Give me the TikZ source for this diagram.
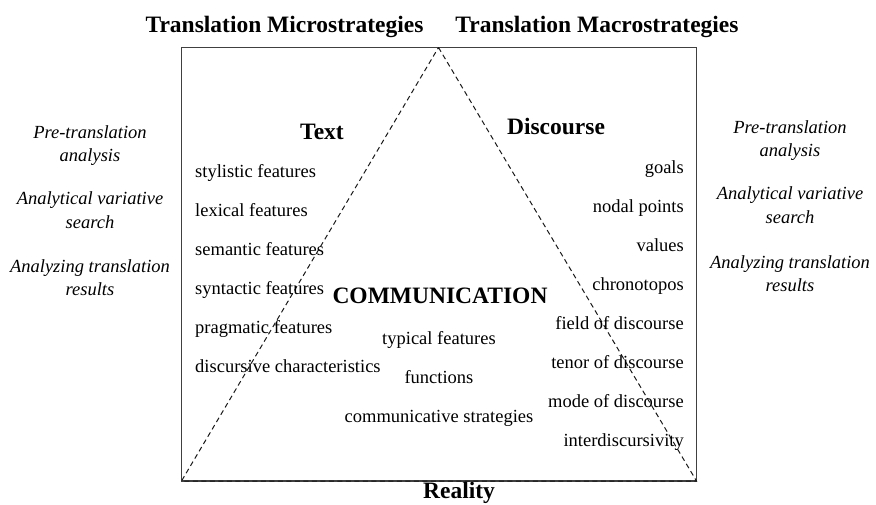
\documentclass[tikz,border=0pt]{standalone}
\usepackage{fontspec}
\setmainfont{Liberation Serif}
\begin{document}
\begin{tikzpicture}[
    x=1pt, y=-1pt,
    item/.style={inner sep=0, font=\fontsize{18.5}{22}\selectfont},
    heading/.style={inner sep=0, font=\fontsize{23.5}{28}\selectfont\bfseries},
    stage/.style={inner sep=0, align=center, font=\fontsize{18.5}{23.5}\selectfont\itshape},
    frame/.style={draw=black!75, line width=1.3pt},
    tri/.style={draw=black!90, line width=1pt, dash pattern=on 5pt off 3.5pt}
  ]
  \useasboundingbox (0,0) rectangle (876,504);
  % frame and triangle
  \coordinate (apex) at (438.5,47.5);
  \coordinate (bl) at (181.5,481);
  \coordinate (br) at (696.5,481);
  \draw[frame] (181.5,47.5) rectangle (696.5,481);
  \draw[tri] (apex) -- (br) -- (bl) -- cycle;

  % headings
  \node[heading, anchor=base] (micro) at (284.5,32) {Translation Microstrategies};
  \node[heading, anchor=base] (macro) at (597,32) {Translation Macrostrategies};
  \node[heading, anchor=base] (text) at (322,139) {Text};
  \node[heading, anchor=base] (disc) at (556,134) {Discourse};
  \node[heading, anchor=base] (comm) at (440,303) {COMMUNICATION};
  \node[heading, anchor=base] (real) at (459,498) {Reality};

  % stages (base = last line)
  \node[stage, anchor=base] (lpre) at (90,161.5) {Pre-translation\\analysis};
  \node[stage, anchor=base] (lsearch) at (90,228) {Analytical variative\\search};
  \node[stage, anchor=base] (lres) at (90,295.5) {Analyzing translation\\results};
  \node[stage, anchor=base] (rpre) at (790,156.5) {Pre-translation\\analysis};
  \node[stage, anchor=base] (rsearch) at (790,223) {Analytical variative\\search};
  \node[stage, anchor=base] (rres) at (790,291.5) {Analyzing translation\\results};

  % text features
  \node[item, anchor=base west] (t1) at (195,177) {stylistic features};
  \node[item, anchor=base west] (t2) at (195,216) {lexical features};
  \node[item, anchor=base west] (t3) at (195,255) {semantic features};
  \node[item, anchor=base west] (t4) at (195,294) {syntactic features};
  \node[item, anchor=base west] (t5) at (195,333) {pragmatic features};
  \node[item, anchor=base west] (t6) at (195,372) {discursive characteristics};

  % discourse features
  \node[item, anchor=base east] (d1) at (684,173) {goals};
  \node[item, anchor=base east] (d2) at (684,212) {nodal points};
  \node[item, anchor=base east] (d3) at (684,251) {values};
  \node[item, anchor=base east] (d4) at (684,290) {chronotopos};
  \node[item, anchor=base east] (d5) at (684,329) {field of discourse};
  \node[item, anchor=base east] (d6) at (684,368) {tenor of discourse};
  \node[item, anchor=base east] (d7) at (684,407) {mode of discourse};
  \node[item, anchor=base east] (d8) at (684,446) {interdiscursivity};

  % communication features
  \node[item, anchor=base] (c1) at (439,344) {typical features};
  \node[item, anchor=base] (c2) at (439,383) {functions};
  \node[item, anchor=base] (c3) at (439,422) {communicative strategies};
\end{tikzpicture}
\end{document}
